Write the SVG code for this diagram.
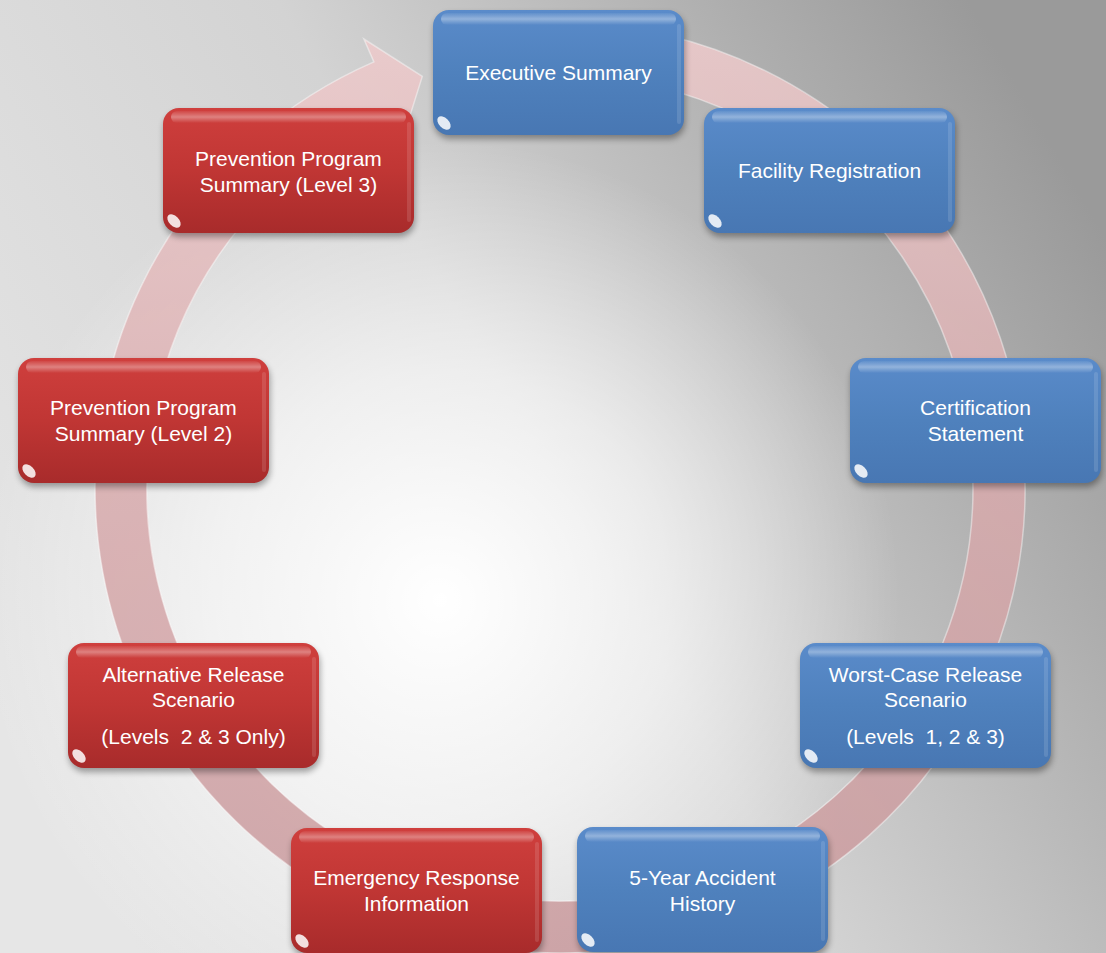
<svg xmlns="http://www.w3.org/2000/svg" xmlns:xlink="http://www.w3.org/1999/xlink" width="1106" height="953" viewBox="0 0 1106 953">
<style>
.t{font-family:"Liberation Sans",Arial,sans-serif;font-size:21px;fill:#ffffff;text-anchor:middle}
</style>
<defs>
<linearGradient id="bgLin" x1="0" y1="0.75" x2="1" y2="0.25">
<stop offset="0" stop-color="#e6e6e6"/>
<stop offset="0.5" stop-color="#d3d3d3"/>
<stop offset="1" stop-color="#9a9a9a"/>
</linearGradient>
<radialGradient id="bgGlow" gradientUnits="userSpaceOnUse" cx="440" cy="600" r="460">
<stop offset="0" stop-color="#ffffff" stop-opacity="1"/>
<stop offset="0.5" stop-color="#ffffff" stop-opacity="0.6"/>
<stop offset="1" stop-color="#ffffff" stop-opacity="0"/>
</radialGradient>
<linearGradient id="ringG" x1="0" y1="0" x2="0" y2="1">
<stop offset="0" stop-color="#efcccd"/>
<stop offset="0.5" stop-color="#d8abad"/>
<stop offset="1" stop-color="#c99a9d"/>
</linearGradient>
<linearGradient id="blueG" x1="0" y1="0" x2="0" y2="1">
<stop offset="0" stop-color="#5a8bca"/>
<stop offset="0.5" stop-color="#4f81bd"/>
<stop offset="1" stop-color="#4877b3"/>
</linearGradient>
<linearGradient id="redG" x1="0" y1="0" x2="0" y2="1">
<stop offset="0" stop-color="#cf3f3d"/>
<stop offset="0.5" stop-color="#c03634"/>
<stop offset="1" stop-color="#a82b2b"/>
</linearGradient>
<linearGradient id="hiG" x1="0" y1="0" x2="0" y2="1">
<stop offset="0" stop-color="#ffffff" stop-opacity="0.05"/>
<stop offset="0.5" stop-color="#ffffff" stop-opacity="0.35"/>
<stop offset="1" stop-color="#ffffff" stop-opacity="0"/>
</linearGradient>
<filter id="sh" x="-10%" y="-10%" width="120%" height="130%">
<feGaussianBlur stdDeviation="3"/>
</filter>
<g id="boxBlue">
<rect x="1" y="4" width="251" height="125" rx="16" fill="#000" opacity="0.35" filter="url(#sh)"/>
<rect x="0" y="0" width="251" height="125" rx="16" fill="url(#blueG)"/>
<rect x="8" y="3" width="235" height="12" rx="6" fill="url(#hiG)"/>
<rect x="244" y="14" width="4" height="100" rx="2" fill="#ffffff" opacity="0.12"/>
<ellipse cx="11" cy="113" rx="8" ry="5" transform="rotate(45 11 113)" fill="#ffffff" opacity="0.85"/>
</g>
<g id="boxRed">
<rect x="1" y="4" width="251" height="125" rx="16" fill="#000" opacity="0.35" filter="url(#sh)"/>
<rect x="0" y="0" width="251" height="125" rx="16" fill="url(#redG)"/>
<rect x="8" y="3" width="235" height="12" rx="6" fill="url(#hiG)"/>
<rect x="244" y="14" width="4" height="100" rx="2" fill="#ffffff" opacity="0.12"/>
<ellipse cx="11" cy="113" rx="8" ry="5" transform="rotate(45 11 113)" fill="#ffffff" opacity="0.85"/>
</g>
</defs>
<rect x="0" y="0" width="1106" height="953" fill="url(#bgLin)"/>
<rect x="0" y="0" width="1106" height="953" fill="url(#bgGlow)"/>
<g id="connectors">
<path d="M 560 23 A 465 465 0 1 1 373.9 61.9 L 363.9 39 L 422.3 76.4 L 404.7 132.4 L 394.7 109.5 A 413 413 0 1 0 560 75 Z" fill="url(#ringG)" opacity="0.85" stroke="#ffffff" stroke-opacity="0.5" stroke-width="1.5"/>
</g>
<g id="exec" transform="translate(433,10)">
<use xlink:href="#boxBlue"/>
<text class="t" x="125.5" y="70">Executive Summary</text>
</g>
<g id="facility" transform="translate(704,108)">
<use xlink:href="#boxBlue"/>
<text class="t" x="125.5" y="70">Facility Registration</text>
</g>
<g id="certification" transform="translate(850,358)">
<use xlink:href="#boxBlue"/>
<text class="t" x="125.5" y="57">Certification</text>
<text class="t" x="125.5" y="83">Statement</text>
</g>
<g id="worstcase" transform="translate(800,643)">
<use xlink:href="#boxBlue"/>
<text class="t" x="125.5" y="39">Worst-Case Release</text>
<text class="t" x="125.5" y="64">Scenario</text>
<text class="t" x="125.5" y="101" xml:space="preserve">(Levels  1, 2 &amp; 3)</text>
</g>
<g id="accident" transform="translate(577,827)">
<use xlink:href="#boxBlue"/>
<text class="t" x="125.5" y="58">5-Year Accident</text>
<text class="t" x="125.5" y="84">History</text>
</g>
<g id="emergency" transform="translate(291,828)">
<use xlink:href="#boxRed"/>
<text class="t" x="125.5" y="57">Emergency Response</text>
<text class="t" x="125.5" y="83">Information</text>
</g>
<g id="alternative" transform="translate(68,643)">
<use xlink:href="#boxRed"/>
<text class="t" x="125.5" y="39">Alternative Release</text>
<text class="t" x="125.5" y="64">Scenario</text>
<text class="t" x="125.5" y="101" xml:space="preserve">(Levels  2 &amp; 3 Only)</text>
</g>
<g id="prevention2" transform="translate(18,358)">
<use xlink:href="#boxRed"/>
<text class="t" x="125.5" y="57">Prevention Program</text>
<text class="t" x="125.5" y="83">Summary (Level 2)</text>
</g>
<g id="prevention3" transform="translate(163,108)">
<use xlink:href="#boxRed"/>
<text class="t" x="125.5" y="58">Prevention Program</text>
<text class="t" x="125.5" y="84">Summary (Level 3)</text>
</g>
</svg>
